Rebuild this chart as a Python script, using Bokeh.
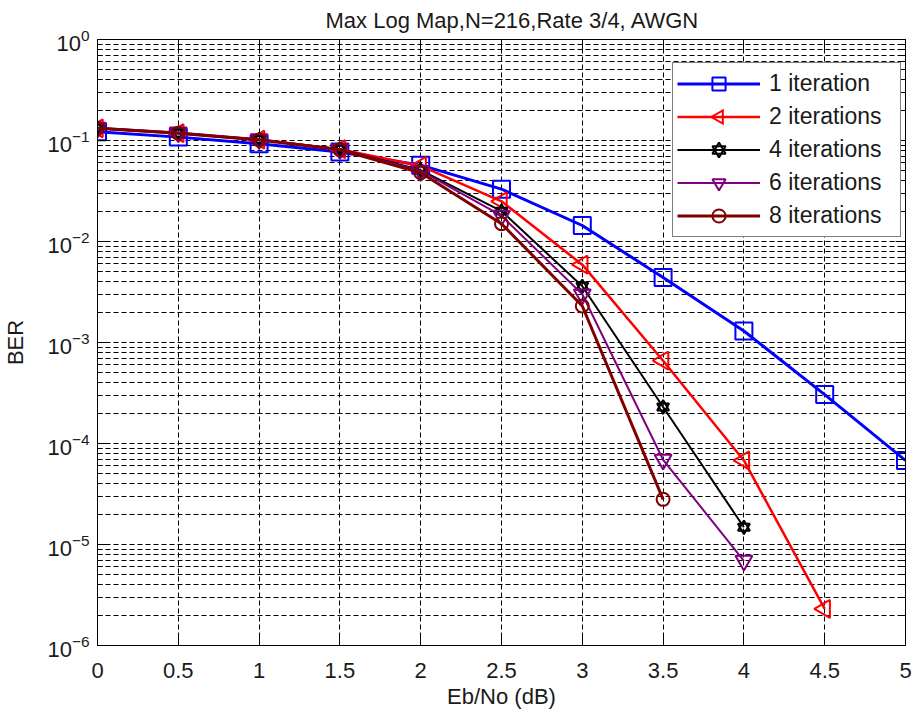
import math
from bokeh.plotting import figure
from bokeh.models import (Range1d, FixedTicker, LogAxis, LinearAxis, Legend,
                          LegendItem, CustomLabelingPolicy, CustomJS)
from bokeh.embed import file_html
from bokeh.resources import INLINE

TITLE = "Max Log Map,N=216,Rate 3/4, AWGN"
X_LABEL = "Eb/No (dB)"
Y_LABEL = "BER"

ebno = [0, 0.5, 1, 1.5, 2, 2.5, 3, 3.5, 4, 4.5, 5]
ber_1 = [0.122, 0.108, 0.093, 0.077, 0.057, 0.033, 0.0144, 0.0044, 0.0013, 0.000305, 0.000068]
ber_2 = [0.132, 0.118, 0.102, 0.082, 0.056, 0.025, 0.0059, 0.00066, 0.000068, 0.0000023]
ber_4 = [0.132, 0.118, 0.102, 0.082, 0.051, 0.020, 0.0036, 0.00023, 0.0000148]
ber_6 = [0.134, 0.120, 0.103, 0.082, 0.050, 0.018, 0.0030, 0.000069, 0.0000069]
ber_8 = [0.132, 0.118, 0.101, 0.081, 0.048, 0.0150, 0.0023, 0.000028]

series_labels = ["1 iteration", "2 iterations", "4 iterations", "6 iterations", "8 iterations"]
series_colors = ["#0000FF", "#FF0000", "#000000", "#800080", "#800000"]

x_ticks = [0, 0.5, 1, 1.5, 2, 2.5, 3, 3.5, 4, 4.5, 5]
x_tick_labels = ["0", "0.5", "1", "1.5", "2", "2.5", "3", "3.5", "4", "4.5", "5"]
y_ticks = [1e-6, 1e-5, 1e-4, 1e-3, 1e-2, 1e-1, 1e0]

FONT = "Liberation Sans"
FS = "22px"

y_minor = []
for k in range(-6, 0):
    for m in range(2, 10):
        y_minor.append(m * 10.0 ** k)

p = figure(x_range=Range1d(0, 5), y_range=Range1d(1e-6, 1), y_axis_type="log",
           frame_width=808, frame_height=606,
           min_border_left=91, min_border_top=39, min_border_right=8, min_border_bottom=58,
           output_backend="svg", toolbar_location=None, title=TITLE)

p.title.text_font = FONT
p.title.text_font_size = FS
p.title.text_font_style = "normal"
p.title.align = "left"
p.title.offset = 228
p.title.text_color = "#1a1a1a"
p.title.standoff = 5

p.outline_line_color = "black"
p.outline_line_width = 1
p.background_fill_color = "white"
p.border_fill_color = "white"

yt = FixedTicker(ticks=y_ticks, minor_ticks=y_minor)
xt = FixedTicker(ticks=x_ticks)

ya = p.yaxis[0]
ya.ticker = yt
ya.axis_label = Y_LABEL
xa = p.xaxis[0]
xa.ticker = xt
xa.axis_label = X_LABEL
xa.major_label_overrides = {float(v): s for v, s in zip(x_ticks, x_tick_labels)}

for ax in (ya, xa):
    ax.major_tick_in = 10
    ax.major_tick_out = 0
    ax.minor_tick_in = 5
    ax.minor_tick_out = 0
    ax.major_tick_line_color = "black"
    ax.minor_tick_line_color = "black"
    ax.axis_line_color = "black"
    ax.major_label_text_font = FONT
    ax.major_label_text_font_size = FS
    ax.major_label_text_color = "#1a1a1a"
    ax.axis_label_text_font = FONT
    ax.axis_label_text_font_size = FS
    ax.axis_label_text_font_style = "normal"
    ax.axis_label_text_color = "#1a1a1a"
xa.minor_tick_line_color = None
ya.major_label_standoff = 8
ya.axis_label_standoff = 16
xa.major_label_standoff = 17
xa.axis_label_standoff = 3

no_labels = "const ids = [...indices]; for (const i of ids) indices.unset(i); return indices;"
ra = LogAxis(ticker=yt, major_label_text_font_size="1px", major_label_standoff=0,
             major_label_policy=CustomLabelingPolicy(code=no_labels),
             major_tick_in=10, major_tick_out=0, minor_tick_in=5, minor_tick_out=0,
             axis_line_color="black", major_tick_line_color="black",
             minor_tick_line_color="black")
p.add_layout(ra, "right")
ta = LinearAxis(ticker=xt, major_label_text_font_size="1px", major_label_standoff=0,
                major_label_policy=CustomLabelingPolicy(code=no_labels),
                major_tick_in=10, major_tick_out=0, minor_tick_line_color=None,
                axis_line_color="black", major_tick_line_color="black")
p.add_layout(ta, "above")

DASH = "5 3"
for g in (p.xgrid, p.ygrid):
    g.grid_line_color = "black"
    g.grid_line_dash = DASH
    g.grid_line_width = 1
p.ygrid.minor_grid_line_color = "black"
p.ygrid.minor_grid_line_dash = DASH
p.ygrid.minor_grid_line_width = 1

LEFT_TRI = CustomJS(code="""
export default (args, obj, data, context) => {
  const {ctx, r} = data
  const h = r*Math.sqrt(3)
  const a = h/3
  ctx.beginPath()
  ctx.moveTo(a, -r)
  ctx.lineTo(a, r)
  ctx.lineTo(a - h, 0)
  ctx.closePath()
  ctx.strokeStyle = "#FF0000"
  ctx.lineWidth = 2
  ctx.stroke()
}
""")

series = [ber_1, ber_2, ber_4, ber_6, ber_8]
line_widths = [3, 2.5, 2, 2, 3]
items = []
for i, (ys, lab, col, lw) in enumerate(zip(series, series_labels, series_colors, line_widths)):
    xs = ebno[:len(ys)]
    rl = p.line(xs, ys, line_color=col, line_width=lw)
    rs = [rl]
    if i == 0:
        rs.append(p.scatter(xs, ys, marker="square", size=17, line_color=col,
                            fill_alpha=0, line_width=2))
    elif i == 1:
        try:
            rs.append(p.scatter(xs, ys, marker="@tri_left", defs={"@tri_left": LEFT_TRI},
                                size=18, line_color=col, fill_alpha=0, line_width=2))
        except Exception:
            rs.append(p.scatter(xs, ys, marker="triangle", size=17, angle=math.pi / 2,
                                line_color=col, fill_alpha=0, line_width=2))
    elif i == 2:
        rs.append(p.scatter(xs, ys, marker="triangle", size=12, line_color=col,
                            fill_alpha=0, line_width=2))
        rs.append(p.scatter(xs, ys, marker="inverted_triangle", size=12, line_color=col,
                            fill_alpha=0, line_width=2))
    elif i == 3:
        rs.append(p.scatter(xs, ys, marker="inverted_triangle", size=17, line_color=col,
                            fill_alpha=0, line_width=2))
    else:
        rs.append(p.scatter(xs, ys, marker="circle", size=13, line_color=col,
                            fill_alpha=0, line_width=2))
    items.append(LegendItem(label=lab, renderers=rs))

legend = Legend(items=items, location=(575, 408))
legend.glyph_width = 83
legend.glyph_height = 33
legend.label_height = 33
legend.spacing = 0
legend.padding = 4
legend.margin = 0
legend.label_standoff = 9
legend.label_width = 127
legend.label_text_font = FONT
legend.label_text_font_size = "23px"
legend.label_text_color = "#1a1a1a"
legend.border_line_color = "black"
legend.border_line_width = 1
legend.background_fill_color = "white"
legend.background_fill_alpha = 1
p.add_layout(legend)

open("out.html", "w").write(file_html(p, INLINE))
